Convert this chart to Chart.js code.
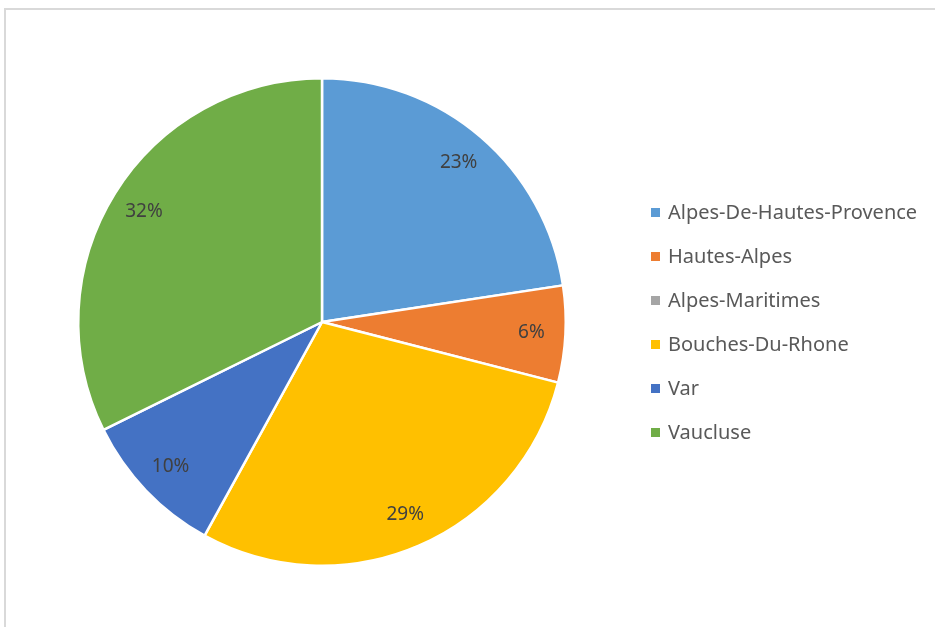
<!DOCTYPE html>
<html>
<head>
<meta charset="utf-8">
<script src="https://cdn.jsdelivr.net/npm/chart.js@4/dist/chart.umd.min.js"></script>
<style>
    html, body { margin: 0; padding: 0; background: #fff; overflow: hidden; }
    body { width: 935px; height: 627px; position: relative; }
    .frame {
        position: absolute; left: 4px; top: 8px;
        width: 2000px; height: 2000px;
        border: 2px solid #d9d9d9;
    }
    #wrap { position: absolute; left: 0; top: 0; width: 935px; height: 627px; }
    #legend {
        position: absolute; left: 651px; top: 198px;
        font-family: "Noto Sans", "Open Sans", sans-serif;
        font-size: 20px; color: #595959;
    }
    .item { height: 44px; display: flex; align-items: flex-start; line-height: 28px; white-space: nowrap; }
    .box { width: 9px; height: 9px; margin-top: 10px; margin-right: 8px; flex: none; }
</style>
</head>
<body>
<div class="frame"></div>
<div id="wrap"><canvas id="pieChart" width="935" height="627"></canvas></div>
<div id="legend"></div>
<script>
// --- Data ---
const departments = ['Alpes-De-Hautes-Provence', 'Hautes-Alpes', 'Alpes-Maritimes', 'Bouches-Du-Rhone', 'Var', 'Vaucluse'];
const shares = [22.6, 6.4, 0, 29.0, 9.7, 32.3];
const colors = ['#5B9BD5', '#ED7D31', '#A5A5A5', '#FFC000', '#4472C4', '#70AD47'];

// percentage labels drawn inside each slice
const sliceLabels = {
    id: 'sliceLabels',
    afterDatasetsDraw(chart) {
        const { ctx } = chart;
        const meta = chart.getDatasetMeta(0);
        const total = shares.reduce((a, b) => a + b, 0);
        ctx.save();
        ctx.font = '19px "Noto Sans", "Open Sans", sans-serif';
        ctx.fillStyle = '#404040';
        ctx.textAlign = 'center';
        ctx.textBaseline = 'middle';
        meta.data.forEach((arc, i) => {
            if (!shares[i]) return;
            const mid = (arc.startAngle + arc.endAngle) / 2;
            const r = arc.outerRadius * 0.86;
            const x = arc.x + Math.cos(mid) * r;
            const y = arc.y + Math.sin(mid) * r;
            ctx.fillText(Math.round(shares[i] / total * 100) + '%', x, y);
        });
        ctx.restore();
    }
};

const ctx = document.getElementById('pieChart').getContext('2d');
new Chart(ctx, {
    type: 'pie',
    data: {
        labels: departments,
        datasets: [{
            data: shares,
            backgroundColor: colors,
            borderColor: '#ffffff',
            borderWidth: 2.5
        }]
    },
    options: {
        responsive: false,
        animation: false,
        layout: { padding: { left: 77, top: 77, right: 368, bottom: 60 } },
        plugins: {
            legend: { display: false },
            tooltip: { enabled: false }
        }
    },
    plugins: [sliceLabels]
});

// --- Legend ---
const legendEl = document.getElementById('legend');
departments.forEach((name, i) => {
    const row = document.createElement('div');
    row.className = 'item';
    row.innerHTML = `<span class="box" style="background:${colors[i]}"></span><span>${name}</span>`;
    legendEl.appendChild(row);
});
</script>
</body>
</html>
